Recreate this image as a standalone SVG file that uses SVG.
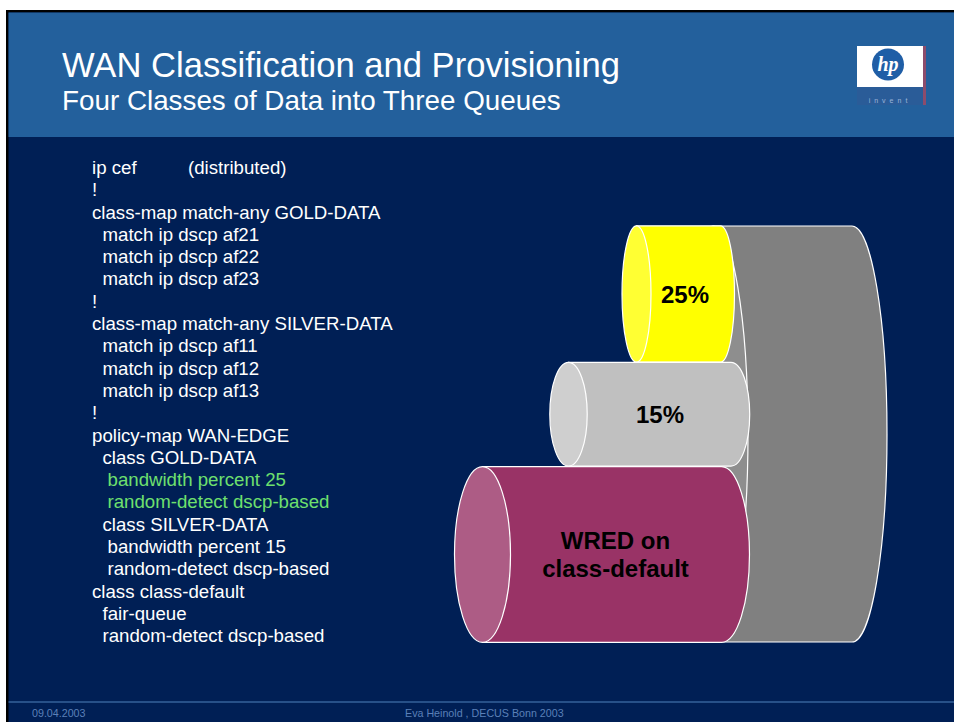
<svg xmlns="http://www.w3.org/2000/svg" width="954" height="722" viewBox="0 0 954 722">
  <defs>
    <style>
      .code { font-family: "Liberation Sans", Arial, sans-serif; font-size: 18.67px; fill: #FFFFFF; }
      .hl { fill: #6EE06E; }
      .lbl { font-family: "Liberation Sans", Arial, sans-serif; font-size: 24px; font-weight: bold; fill: #000000; text-anchor: middle; }
      .foot { font-family: "Liberation Sans", Arial, sans-serif; font-size: 10.7px; fill: #5B80B8; }
      .edge { stroke: #FFFFFF; stroke-width: 1.2; }
    </style>
  </defs>

  <!-- page margin and slide frame -->
  <rect x="0" y="0" width="954" height="722" fill="#FFFFFF"/>
  <rect x="6" y="10" width="948" height="712" fill="#000000"/>
  <rect x="8.5" y="12.5" width="945.5" height="709.5" fill="#001F55"/>

  <!-- title band -->
  <rect x="8.5" y="12.5" width="945.5" height="124.5" fill="#23609C"/>
  <g id="title">
    <text x="62" y="77" font-family="Liberation Sans, Arial, sans-serif" font-size="34.6" fill="#FFFFFF">WAN Classification and Provisioning</text>
    <text x="62" y="110" font-family="Liberation Sans, Arial, sans-serif" font-size="27.8" fill="#FFFFFF">Four Classes of Data into Three Queues</text>
  </g>

  <!-- hp invent logo -->
  <g id="logo">
    <rect x="857" y="46" width="66" height="59" fill="#2A5C98"/>
    <rect x="857" y="46" width="66" height="41" fill="#FFFFFF"/>
    <rect x="923" y="46" width="3" height="59" fill="#8C4C6C"/>
    <circle cx="888" cy="64.5" r="16" fill="#1F5EA6"/>
    <text x="888" y="71" font-family="Liberation Serif, serif" font-size="20" font-style="italic" font-weight="bold" fill="#FFFFFF" text-anchor="middle">hp</text>
    <text x="890" y="103" font-family="Liberation Sans, Arial, sans-serif" font-size="7" fill="#9BB4D8" text-anchor="middle" letter-spacing="4">invent</text>
  </g>

  <!-- router configuration listing -->
  <g id="config">
    <text class="code" x="92" y="174">ip cef</text>
    <text class="code" x="188" y="174">(distributed)</text>
    <text class="code" x="92" y="196.3">!</text>
    <text class="code" x="92" y="218.6">class-map match-any GOLD-DATA</text>
    <text class="code" x="102.5" y="240.9">match ip dscp af21</text>
    <text class="code" x="102.5" y="263.2">match ip dscp af22</text>
    <text class="code" x="102.5" y="285.4">match ip dscp af23</text>
    <text class="code" x="92" y="307.7">!</text>
    <text class="code" x="92" y="330">class-map match-any SILVER-DATA</text>
    <text class="code" x="102.5" y="352.3">match ip dscp af11</text>
    <text class="code" x="102.5" y="374.6">match ip dscp af12</text>
    <text class="code" x="102.5" y="396.9">match ip dscp af13</text>
    <text class="code" x="92" y="419.2">!</text>
    <text class="code" x="92" y="441.5">policy-map WAN-EDGE</text>
    <text class="code" x="102.5" y="463.8">class GOLD-DATA</text>
    <text class="code hl" x="107.5" y="486.1">bandwidth percent 25</text>
    <text class="code hl" x="107.5" y="508.4">random-detect dscp-based</text>
    <text class="code" x="102.5" y="530.6">class SILVER-DATA</text>
    <text class="code" x="107.5" y="552.9">bandwidth percent 15</text>
    <text class="code" x="107.5" y="575.2">random-detect dscp-based</text>
    <text class="code" x="92" y="597.5">class class-default</text>
    <text class="code" x="102.5" y="619.8">fair-queue</text>
    <text class="code" x="102.5" y="642.1">random-detect dscp-based</text>
  </g>

  <!-- total link capacity -->
  <g id="link">
    <path class="edge" d="M713 226 L852 226 A35 208 0 0 1 852 642 L713 642 Z" fill="#808080"/>
    <ellipse class="edge" cx="713" cy="434" rx="35" ry="208" fill="#8E8E8E"/>
  </g>

  <!-- gold queue -->
  <g id="gold">
    <path class="edge" d="M636.5 225.8 L720.5 225.8 A14 68.2 0 0 1 720.5 362.2 L636.5 362.2 Z" fill="#FFFF00"/>
    <ellipse class="edge" cx="636.5" cy="294" rx="14.5" ry="68.2" fill="#FFFF33"/>
    <text class="lbl" x="685" y="303">25%</text>
  </g>

  <!-- silver queue -->
  <g id="silver">
    <path class="edge" d="M568.5 362.3 L731 362.3 A18.7 51.9 0 0 1 731 466.1 L568.5 466.1 Z" fill="#C0C0C0"/>
    <ellipse class="edge" cx="568.5" cy="414.2" rx="18.7" ry="51.9" fill="#CFCFCF"/>
    <text class="lbl" x="660" y="422.5">15%</text>
  </g>

  <!-- default queue -->
  <g id="default">
    <path class="edge" d="M482.5 466.7 L721.5 466.7 A28 87.8 0 0 1 721.5 642.3 L482.5 642.3 Z" fill="#993366"/>
    <ellipse class="edge" cx="482.5" cy="554.5" rx="28" ry="87.8" fill="#AD5C85"/>
    <text class="lbl" x="615.5" y="549">WRED on</text>
    <text class="lbl" x="615.5" y="577">class-default</text>
  </g>

  <!-- footer -->
  <g id="footer">
    <line x1="8.5" y1="702" x2="954" y2="702" stroke="#4F82BC" stroke-width="1.2"/>
    <text class="foot" x="32" y="717">09.04.2003</text>
    <text class="foot" x="405" y="717">Eva Heinold , DECUS Bonn 2003</text>
  </g>
</svg>
